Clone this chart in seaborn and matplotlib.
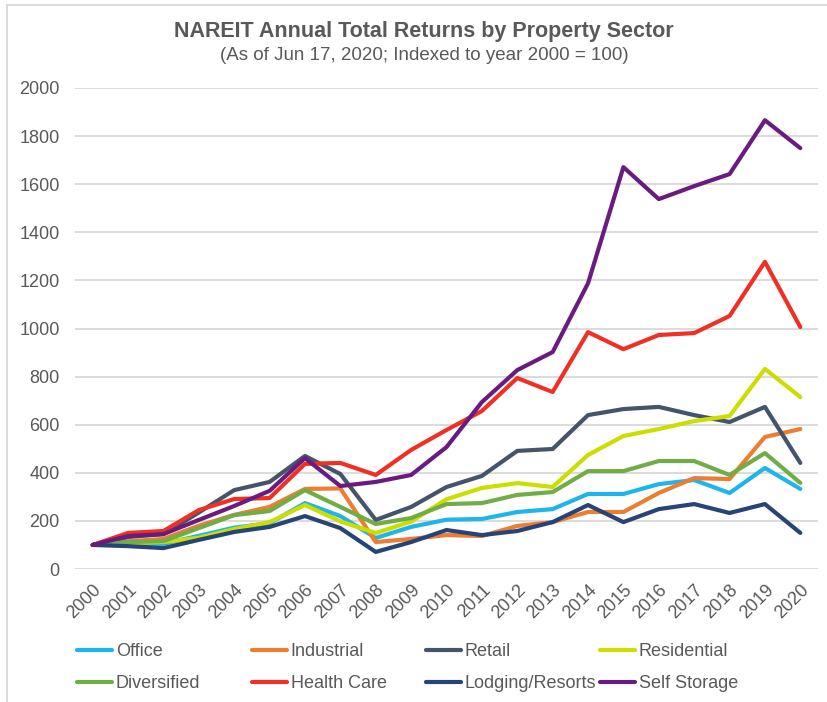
import matplotlib
matplotlib.use("Agg")
import matplotlib.pyplot as plt
from matplotlib.patches import Rectangle
import seaborn as sns
import pandas as pd

# indexed total returns, year 2000 = 100
years = list(range(2000, 2021))
office = [100, 105, 105, 138, 172, 190, 274, 220, 129, 175, 205, 208, 237, 249, 312, 312, 353, 370, 316, 420, 333]
industrial = [100, 115, 125, 180, 225, 258, 333, 335, 112, 125, 141, 137, 179, 195, 237, 237, 316, 378, 374, 549, 582]
retail = [100, 133, 145, 235, 328, 362, 470, 395, 204, 258, 341, 387, 491, 499, 640, 665, 674, 640, 611, 674, 441]
residential = [100, 108, 112, 130, 166, 195, 266, 198, 150, 197, 290, 337, 357, 341, 474, 553, 582, 615, 636, 832, 715]
diversified = [100, 112, 116, 170, 224, 241, 328, 258, 187, 212, 270, 274, 308, 320, 407, 407, 449, 449, 391, 482, 358]
health_care = [100, 150, 158, 245, 291, 295, 437, 441, 391, 495, 578, 657, 794, 736, 985, 914, 973, 981, 1052, 1277, 1006]
lodging = [100, 95, 87, 121, 154, 175, 220, 170, 71, 112, 162, 141, 158, 195, 266, 195, 249, 270, 233, 270, 150]
self_storage = [100, 137, 145, 204, 262, 325, 461, 345, 362, 391, 507, 694, 827, 902, 1188, 1671, 1538, 1592, 1642, 1866, 1750]

sectors = ["Office", "Industrial", "Retail", "Residential",
           "Diversified", "Health Care", "Lodging/Resorts", "Self Storage"]
series = [office, industrial, retail, residential,
          diversified, health_care, lodging, self_storage]
colors = ["#1DB5EA", "#ED7D31", "#44546A", "#CCDD00",
          "#70AD47", "#EE3124", "#264478", "#6A1B80"]

df = pd.DataFrame({
    "year": years * len(sectors),
    "value": [v for s in series for v in s],
    "sector": [name for name in sectors for _ in years],
})

sns.set_style("white")
plt.rcParams["font.family"] = ["Liberation Sans", "DejaVu Sans"]
text_gray = "#595959"
grid_gray = "#D9D9D9"

fig = plt.figure(figsize=(8.27, 7.02), dpi=100)
ax = fig.add_axes([75 / 827, 133 / 702, 743 / 827, 481 / 702])

sns.lineplot(data=df, x="year", y="value", hue="sector", hue_order=sectors,
             palette=colors, linewidth=3.0, ax=ax, legend=False)

ax.set_xlim(1999.5, 2020.5)
ax.set_ylim(0, 2000)
ax.set_yticks(range(0, 2001, 200))
ax.set_xticks(years)
ax.set_xticklabels([str(y) for y in years], rotation=45, ha="right",
                   rotation_mode="anchor")
ax.tick_params(axis="both", colors=text_gray, labelsize=13, length=0)
ax.tick_params(axis="y", pad=11)
ax.tick_params(axis="x", pad=9)
for lab in ax.get_xticklabels():
    lab.set_color(text_gray)
ax.set_xlabel("")
ax.set_ylabel("")
ax.yaxis.grid(True, color=grid_gray, linewidth=1.3)
ax.set_axisbelow(True)
for sp in ax.spines.values():
    sp.set_visible(False)

fig.text(0.513, 1 - 32 / 702, "NAREIT Annual Total Returns by Property Sector",
         ha="center", va="center", fontsize=15.5, fontweight="bold", color=text_gray)
fig.text(0.513, 1 - 56 / 702, "(As of Jun 17, 2020; Indexed to year 2000 = 100)",
         ha="center", va="center", fontsize=13.5, color=text_gray)

# legend laid out like the Excel one: 4 columns of 2 rows
lines = ax.get_lines()
col_x = [77, 252, 426, 600]
for c in range(4):
    idx = [c, c + 4]
    leg = fig.legend([lines[i] for i in idx], [sectors[i] for i in idx],
                     loc="upper left", bbox_to_anchor=(col_x[c] / 827, 1 - 643 / 702),
                     frameon=False, fontsize=13, handlelength=1.95,
                     handletextpad=0.2, borderpad=0, borderaxespad=0,
                     labelspacing=0.85)
    for t in leg.get_texts():
        t.set_color(text_gray)

# chart frame
fig.patches.append(Rectangle((7 / 827, -0.05), 1.2, 1 - 4.5 / 702 + 0.05,
                             transform=fig.transFigure, fill=False,
                             edgecolor=grid_gray, linewidth=1.3))

plt.savefig("out.png", dpi=100)
